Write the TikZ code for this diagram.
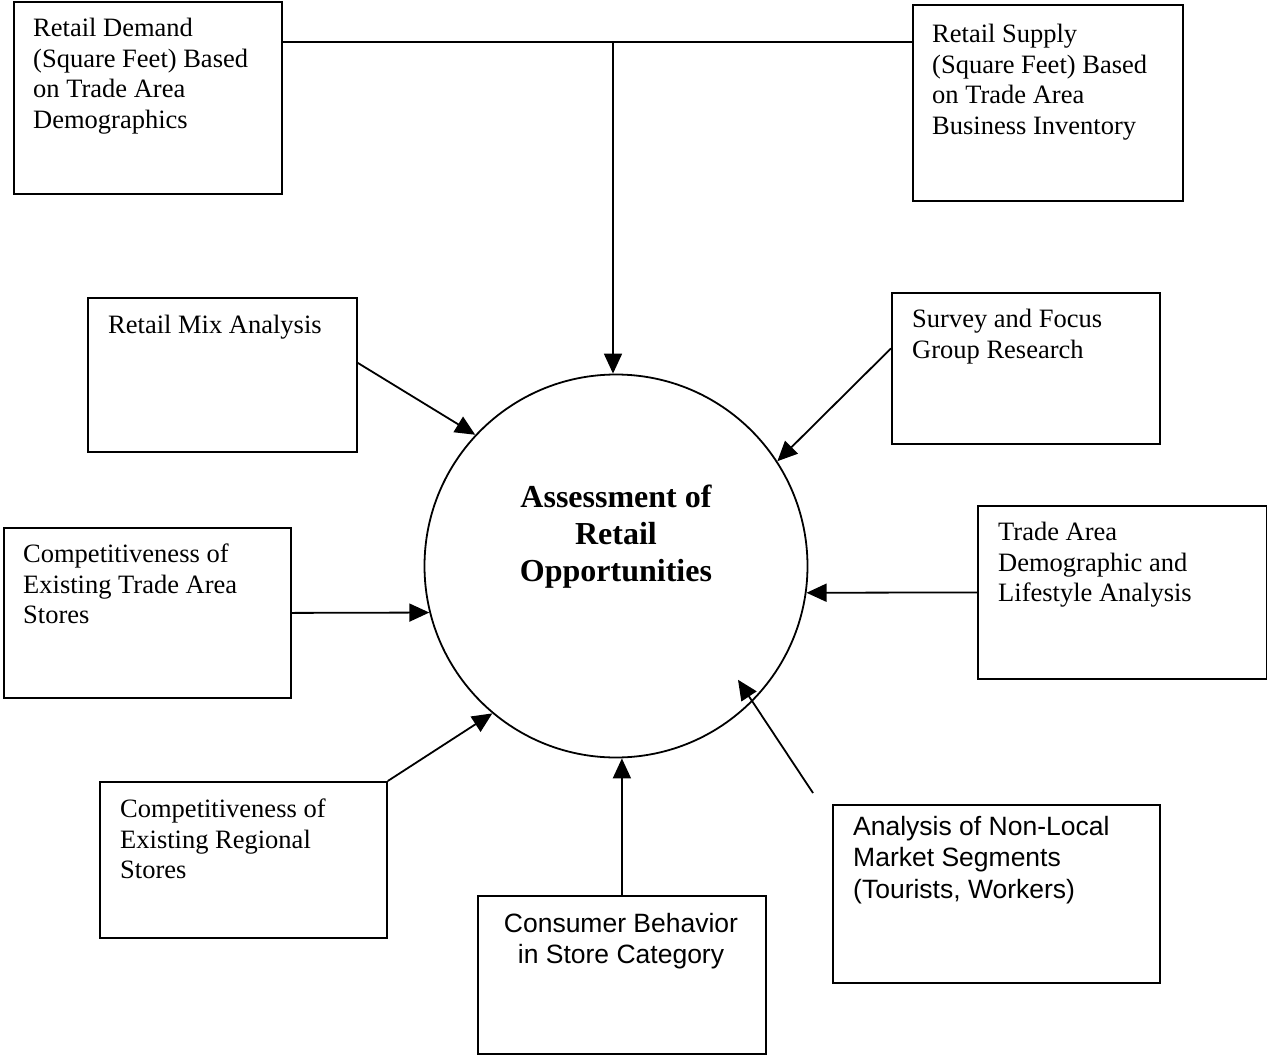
\documentclass[tikz,border=0pt]{standalone}
\usepackage{fontspec}
\setmainfont{Liberation Serif}
\newfontfamily\arialfont{Liberation Sans}
\usetikzlibrary{positioning,arrows.meta,calc}

\begin{document}
\begin{tikzpicture}[x=1pt, y=-1pt, >={Triangle[length=20pt,width=18pt]},
  frame/.style={draw, line width=1.8pt, inner sep=0pt, anchor=north west},
  serif/.style={inner sep=0pt, anchor=north west, align=left, font=\fontsize{26.5}{30.5}\selectfont},
  sans/.style={inner sep=0pt, anchor=north west, align=left, font=\arialfont\fontsize{26.5}{31.5}\selectfont},
  link/.style={line width=1.8pt}]
  \useasboundingbox (0,0) rectangle (1267,1055);

  \node[frame, minimum width=268pt, minimum height=192pt] (demand) at (13,1) {};
  \node[frame, minimum width=270pt, minimum height=196pt] (supply) at (912,4) {};
  \node[frame, minimum width=269pt, minimum height=154pt] (mix) at (87,297) {};
  \node[frame, minimum width=268pt, minimum height=151pt] (survey) at (891,292) {};
  \node[frame, minimum width=287pt, minimum height=170pt] (stores) at (3,527) {};
  \node[frame, minimum width=289pt, minimum height=173pt] (demo) at (977,505) {};
  \node[frame, minimum width=287pt, minimum height=156pt] (regional) at (99,781) {};
  \node[frame, minimum width=288pt, minimum height=158pt] (consumer) at (477,895) {};
  \node[frame, minimum width=327pt, minimum height=178pt] (nonlocal) at (832,804) {};
  \node[draw, circle, line width=1.8pt, minimum size=383pt, inner sep=0pt] (core) at (616,566) {};

  \node[serif] (demandtxt) at (33,18) {Retail Demand\\(Square Feet) Based\\on Trade Area\\Demographics};
  \node[serif] (supplytxt) at (932,24) {Retail Supply\\(Square Feet) Based\\on Trade Area\\Business Inventory};
  \node[serif] (mixtxt) at (108,315) {Retail Mix Analysis};
  \node[serif] (surveytxt) at (912,309) {Survey and Focus\\Group Research};
  \node[serif] (storestxt) at (23,544) {Competitiveness of\\Existing Trade Area\\Stores};
  \node[serif] (demotxt) at (998,522) {Trade Area\\Demographic and\\Lifestyle Analysis};
  \node[serif] (regionaltxt) at (120,799) {Competitiveness of\\Existing Regional\\Stores};
  \node[sans] (nonlocaltxt) at (853,816) {Analysis of Non-Local\\Market Segments\\(Tourists, Workers)};
  \node[sans, anchor=north, align=center] (consumertxt) at (621,913) {Consumer Behavior\\in Store Category};
  \node[inner sep=0pt, anchor=north, align=center, font=\bfseries\fontsize{32}{37}\selectfont] (coretxt) at (616,485) {Assessment of\\Retail\\Opportunities};

  \coordinate (topjoin) at (613,42);
  \coordinate (nltail) at (813,793);
  \draw[link] (demand.east |- topjoin) -- (supply.west |- topjoin);
  \draw[link,->] (topjoin) -- (topjoin |- core.north);
  \draw[link,->] ([yshift=12pt]mix.east) -- (core.137);
  \draw[link,->] ([yshift=20pt]survey.west) -- (core.33);
  \draw[link,->] (stores.east) -- (core.194);
  \draw[link,->] (demo.west) -- (core.352);
  \draw[link,->] (regional.north east) -- (core.230);
  \draw[link,->] (consumer.north) -- (consumer.north |- core.south);
  \draw[link,->] (nltail) -- ($(core.center)!0.867!(core.317)$);
\end{tikzpicture}
\end{document}
